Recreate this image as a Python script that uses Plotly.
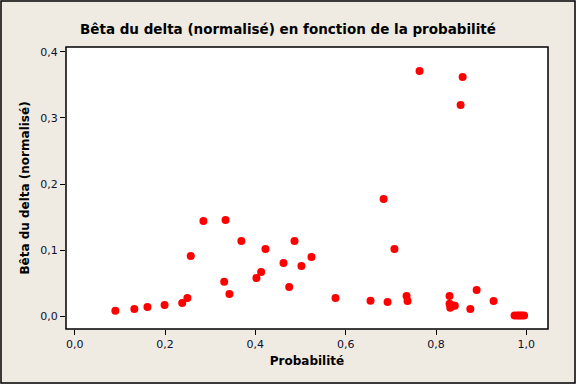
import plotly.graph_objects as go

prob = [0.090, 0.132, 0.161, 0.199, 0.238, 0.2495, 0.257, 0.285, 0.334, 0.331,
        0.3426, 0.369, 0.4024, 0.4128, 0.4224, 0.4623, 0.4749, 0.4867, 0.502, 0.5243,
        0.5775, 0.655, 0.684, 0.6927, 0.708, 0.7348, 0.737, 0.7636, 0.830, 0.830,
        0.8416, 0.8316, 0.838, 0.8545, 0.859, 0.876, 0.890, 0.9276,
        0.974, 0.980, 0.985, 0.990, 0.995]
beta = [0.0083, 0.011, 0.014, 0.017, 0.020, 0.0275, 0.091, 0.144, 0.1455, 0.052,
        0.0336, 0.1138, 0.0578, 0.0668, 0.1017, 0.0805, 0.0442, 0.1138, 0.076, 0.0896,
        0.0275, 0.0234, 0.1773, 0.0215, 0.1017, 0.0306, 0.023, 0.371, 0.0306, 0.0189,
        0.0159, 0.0129, 0.016, 0.3195, 0.362, 0.0109, 0.0396, 0.023,
        0.0012, 0.0012, 0.0012, 0.0012, 0.0012]

x_ticks = [0.0, 0.2, 0.4, 0.6, 0.8, 1.0]
x_labels = ["0,0", "0,2", "0,4", "0,6", "0,8", "1,0"]
y_ticks = [0.0, 0.1, 0.2, 0.3, 0.4]
y_labels = ["0,0", "0,1", "0,2", "0,3", "0,4"]

BG = "#EFEBE2"
FONT = "DejaVu Sans"
TXT = "#101030"

fig = go.Figure()
fig.add_trace(go.Scatter(
    x=prob, y=beta, mode="markers",
    marker=dict(color="#FF0000", size=8, line=dict(width=0)),
    showlegend=False, hoverinfo="skip"))

L, R, T, B = 66, 28, 47, 55
W = 576 - L - R
H = 384 - T - B

fig.update_layout(
    width=576, height=384,
    margin=dict(l=L, r=R, t=T, b=B, pad=0),
    paper_bgcolor=BG, plot_bgcolor="white",
    font=dict(family=FONT, size=11, color=TXT),
    title=dict(text="<b>Bêta du delta (normalisé) en fonction de la probabilité</b>",
               x=0.5, xanchor="center", y=1 - 29 / 384, yanchor="middle",
               font=dict(family=FONT, size=13.5, color="#000000")),
    xaxis=dict(range=[-0.0193, 1.048], tickvals=x_ticks, ticktext=x_labels,
               ticks="outside", ticklen=5, tickcolor="black", tickwidth=1,
               showgrid=False, zeroline=False, showline=False,
               title=dict(text="<b>Probabilité</b>", standoff=6,
                          font=dict(family=FONT, size=12, color="#000000")),
               tickfont=dict(family=FONT, size=11, color=TXT)),
    yaxis=dict(range=[-0.0194, 0.4073], tickvals=y_ticks, ticktext=y_labels,
               ticks="outside", ticklen=5, tickcolor="black", tickwidth=1,
               showgrid=False, zeroline=False, showline=False,
               title=dict(text="<b>Bêta du delta (normalisé)</b>", standoff=8,
                          font=dict(family=FONT, size=12, color="#000000")),
               tickfont=dict(family=FONT, size=11, color=TXT)),
    shapes=[
        dict(type="rect", xref="paper", yref="paper", x0=0, x1=1, y0=0, y1=1,
             line=dict(color="black", width=1.5), fillcolor="rgba(0,0,0,0)", layer="above"),
        dict(type="rect", xref="paper", yref="paper",
             x0=(-L + 1) / W, x1=(576 - L - 1) / W,
             y0=(-B + 1) / H, y1=(384 - B - 1) / H,
             line=dict(color="black", width=1.5), fillcolor="rgba(0,0,0,0)", layer="above"),
    ],
)

fig.write_html("out.html", config={"displayModeBar": False},
               post_script="document.body.style.margin='0';document.body.style.padding='0';")
